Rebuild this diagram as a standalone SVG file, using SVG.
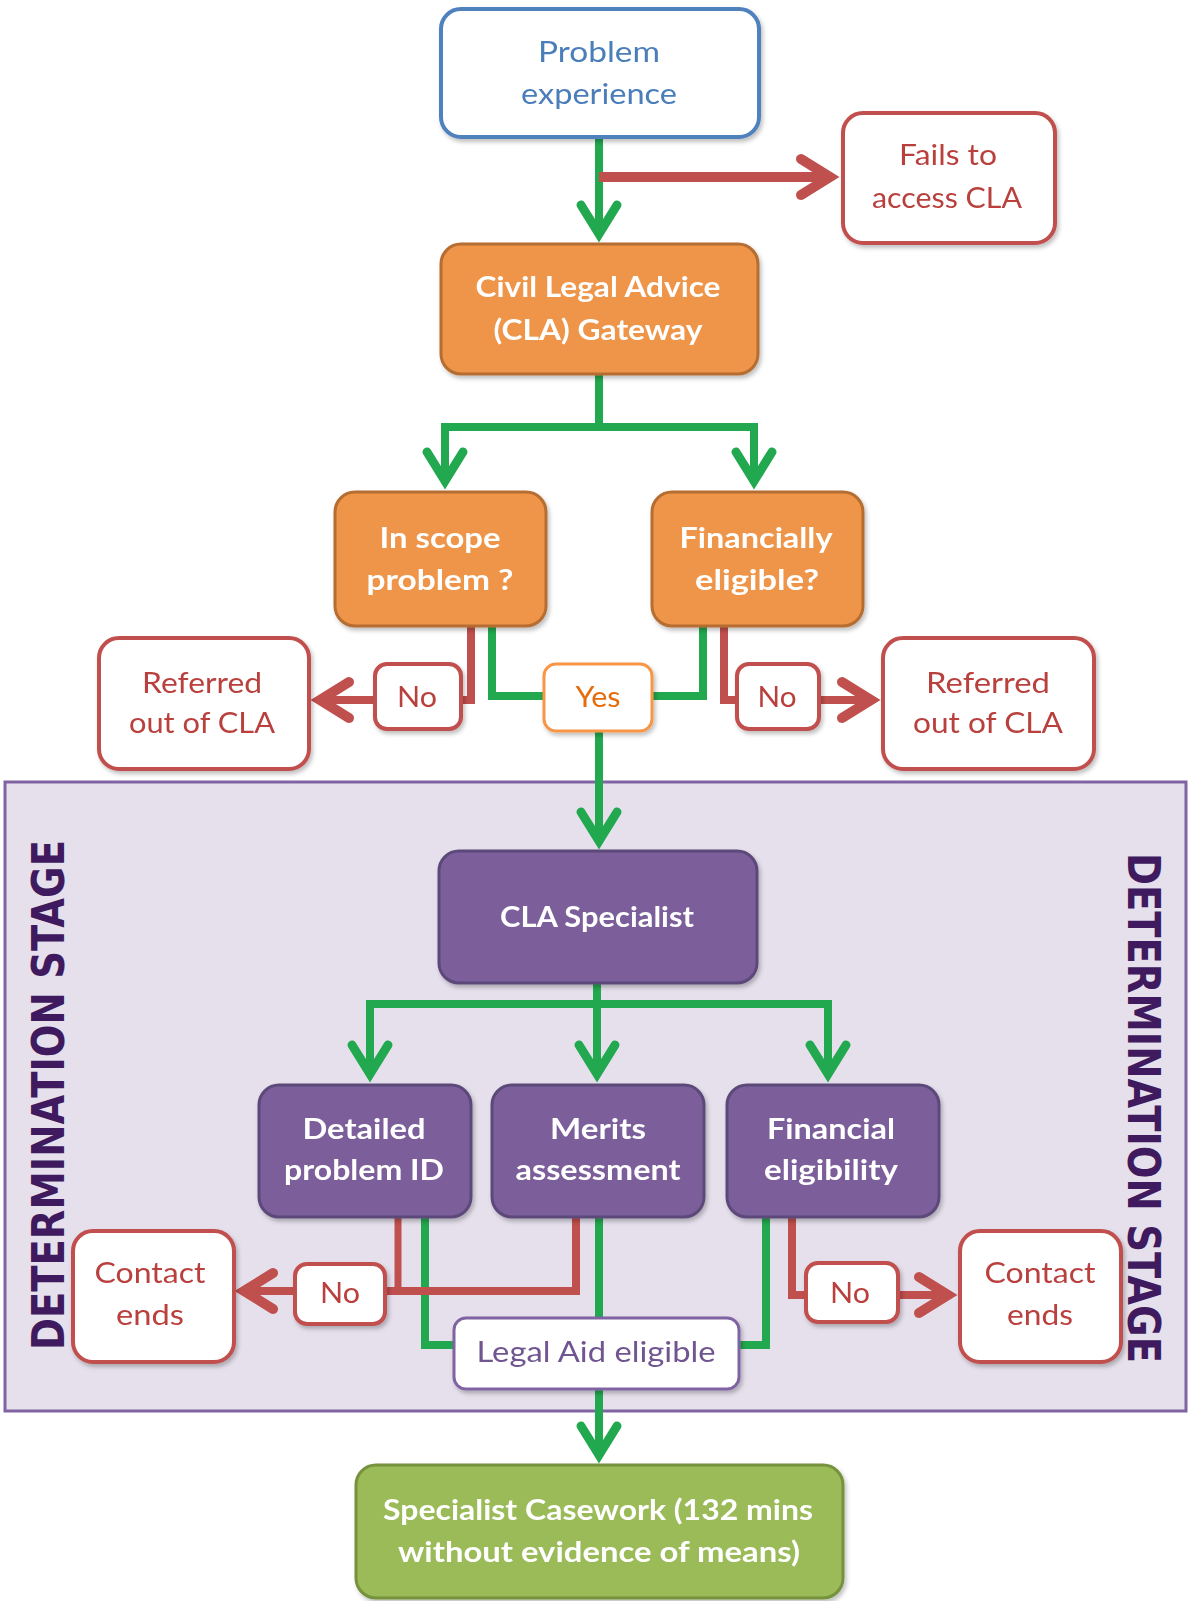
<svg xmlns="http://www.w3.org/2000/svg" width="1189" height="1601" viewBox="0 0 1189 1601">
<style>
text{font-family:Lato,"Liberation Sans",sans-serif;font-size:28px;text-anchor:middle}
.b{font-weight:bold;fill:#fff}
.blue{fill:#4A7EBB}
.red{fill:#B9403E}
.org{fill:#E46C0A}
.pur{fill:#6F5590}
.stage{font-family:"DejaVu Sans",sans-serif;font-weight:bold;font-size:44px;fill:#3F1A5E}
.wb{fill:#fff;stroke:#4F81BD;stroke-width:4}
.wr{fill:#fff;stroke:#C0504D;stroke-width:4}
.wo{fill:#fff;stroke:#F79646;stroke-width:3}
.wp{fill:#fff;stroke:#8064A2;stroke-width:3}
.or{fill:#EE9548;stroke:#B66D31;stroke-width:3}
.pr{fill:#7B5F9A;stroke:#5C4A7A;stroke-width:3}
.gr{fill:#9BBB59;stroke:#76923C;stroke-width:3}
.g{fill:none;stroke:#22A84E;stroke-width:8;stroke-linejoin:miter}
.r{fill:none;stroke:#C0504D;stroke-width:8;stroke-linejoin:miter}
.sh{filter:url(#ds)}
</style>
<defs>
<filter id="ds" x="-10%" y="-10%" width="130%" height="130%">
<feDropShadow dx="2" dy="3" stdDeviation="2" flood-color="#000" flood-opacity="0.25"/>
</filter>
<marker id="ag" markerUnits="userSpaceOnUse" orient="auto" refX="0" refY="0" markerWidth="10" markerHeight="10" overflow="visible">
<path d="M-30,-18 L-1,0 L-30,18" fill="none" stroke="#22A84E" stroke-width="9" stroke-linecap="round" stroke-linejoin="miter"/>
</marker>
<marker id="ar" markerUnits="userSpaceOnUse" orient="auto" refX="0" refY="0" markerWidth="10" markerHeight="10" overflow="visible">
<path d="M-30,-18 L-1,0 L-30,18" fill="none" stroke="#C0504D" stroke-width="10" stroke-linecap="round" stroke-linejoin="miter"/>
</marker>
</defs>
<rect width="1189" height="1601" fill="#fff"/>
<g id="frame">
<rect x="5" y="782" width="1181" height="629" fill="#E5E0EC" stroke="#8064A2" stroke-width="3"/>
<text class="stage" transform="translate(64,1095) rotate(-90)" textLength="510" lengthAdjust="spacingAndGlyphs">DETERMINATION STAGE</text>
<text class="stage" transform="translate(1128,1108) rotate(90)" textLength="510" lengthAdjust="spacingAndGlyphs">DETERMINATION STAGE</text>
</g>
<g id="connectors">
<path class="g" d="M599,138 V235" marker-end="url(#ag)"/>
<path class="r" d="M599,177 H831" style="stroke-width:10" marker-end="url(#ar)"/>
<path class="g" d="M599,375 V427"/>
<path class="g" d="M599,427 H445 V482" marker-end="url(#ag)"/>
<path class="g" d="M599,427 H754 V482" marker-end="url(#ag)"/>
<path class="g" d="M492,627 V696 H545"/>
<path class="g" d="M703,627 V696 H651"/>
<path class="r" d="M471,627 V700 H319" marker-end="url(#ar)"/>
<path class="r" d="M724,627 V700 H872" marker-end="url(#ar)"/>
<path class="g" d="M599,732 V842" marker-end="url(#ag)"/>
<path class="g" d="M597,984 V1004"/>
<path class="g" d="M597,1004 H370 V1075" marker-end="url(#ag)"/>
<path class="g" d="M597,1004 V1075" marker-end="url(#ag)"/>
<path class="g" d="M597,1004 H828 V1075" marker-end="url(#ag)"/>
<path class="g" d="M425,1217 V1345 H455"/>
<path class="g" d="M599,1217 V1318"/>
<path class="g" d="M766,1217 V1345 H738"/>
<path class="r" d="M398,1217 V1291" style="stroke-width:7"/>
<path class="r" d="M576,1217 V1291 H243" marker-end="url(#ar)"/>
<path class="r" d="M792,1217 V1295 H949" marker-end="url(#ar)"/>
<path class="g" d="M599,1389 V1456" marker-end="url(#ag)"/>
</g>
<g id="problem-experience" class="sh">
<rect class="wb" x="441" y="9" width="318" height="128" rx="20"/>
<text class="blue" x="599" y="62" textLength="122" lengthAdjust="spacingAndGlyphs">Problem</text>
<text class="blue" x="599" y="104" textLength="156" lengthAdjust="spacingAndGlyphs">experience</text>
</g>
<g id="fails-to-access" class="sh">
<rect class="wr" x="843" y="113" width="212" height="130" rx="20"/>
<text class="red" x="948" y="165" textLength="98" lengthAdjust="spacingAndGlyphs">Fails to</text>
<text class="red" x="947" y="208" textLength="150" lengthAdjust="spacingAndGlyphs">access CLA</text>
</g>
<g id="cla-gateway" class="sh">
<rect class="or" x="441" y="244" width="317" height="130" rx="20"/>
<text class="b" x="598" y="297" textLength="245" lengthAdjust="spacingAndGlyphs">Civil Legal Advice</text>
<text class="b" x="598" y="340" textLength="209" lengthAdjust="spacingAndGlyphs">(CLA) Gateway</text>
</g>
<g id="in-scope" class="sh">
<rect class="or" x="335" y="492" width="211" height="134" rx="20"/>
<text class="b" x="440" y="548" textLength="121" lengthAdjust="spacingAndGlyphs">In scope</text>
<text class="b" x="440" y="590" textLength="147" lengthAdjust="spacingAndGlyphs">problem ?</text>
</g>
<g id="financially-eligible" class="sh">
<rect class="or" x="652" y="492" width="211" height="134" rx="20"/>
<text class="b" x="756" y="548" textLength="153" lengthAdjust="spacingAndGlyphs">Financially</text>
<text class="b" x="757" y="590" textLength="124" lengthAdjust="spacingAndGlyphs">eligible?</text>
</g>
<g id="referred-left" class="sh">
<rect class="wr" x="99" y="638" width="210" height="131" rx="20"/>
<text class="red" x="202" y="693" textLength="120" lengthAdjust="spacingAndGlyphs">Referred</text>
<text class="red" x="202" y="733" textLength="146" lengthAdjust="spacingAndGlyphs">out of CLA</text>
</g>
<g id="referred-right" class="sh">
<rect class="wr" x="883" y="638" width="211" height="131" rx="20"/>
<text class="red" x="988" y="693" textLength="124" lengthAdjust="spacingAndGlyphs">Referred</text>
<text class="red" x="988" y="733" textLength="150" lengthAdjust="spacingAndGlyphs">out of CLA</text>
</g>
<g id="no-scope" class="sh">
<rect class="wr" x="375" y="664" width="86" height="65" rx="12"/>
<text class="red" x="417" y="707" textLength="40" lengthAdjust="spacingAndGlyphs">No</text>
</g>
<g id="yes" class="sh">
<rect class="wo" x="544" y="664" width="108" height="67" rx="12"/>
<text class="org" x="598" y="707" textLength="45" lengthAdjust="spacingAndGlyphs">Yes</text>
</g>
<g id="no-financial" class="sh">
<rect class="wr" x="737" y="664" width="82" height="65" rx="12"/>
<text class="red" x="777" y="707" textLength="39" lengthAdjust="spacingAndGlyphs">No</text>
</g>
<g id="cla-specialist" class="sh">
<rect class="pr" x="439" y="851" width="318" height="132" rx="20"/>
<text class="b" x="597" y="927" textLength="194" lengthAdjust="spacingAndGlyphs">CLA Specialist</text>
</g>
<g id="detailed-problem" class="sh">
<rect class="pr" x="259" y="1085" width="212" height="132" rx="20"/>
<text class="b" x="364" y="1139" textLength="123" lengthAdjust="spacingAndGlyphs">Detailed</text>
<text class="b" x="364" y="1180" textLength="160" lengthAdjust="spacingAndGlyphs">problem ID</text>
</g>
<g id="merits-assessment" class="sh">
<rect class="pr" x="492" y="1085" width="212" height="132" rx="20"/>
<text class="b" x="598" y="1139" textLength="96" lengthAdjust="spacingAndGlyphs">Merits</text>
<text class="b" x="598" y="1180" textLength="165" lengthAdjust="spacingAndGlyphs">assessment</text>
</g>
<g id="financial-eligibility" class="sh">
<rect class="pr" x="727" y="1085" width="212" height="132" rx="20"/>
<text class="b" x="831" y="1139" textLength="128" lengthAdjust="spacingAndGlyphs">Financial</text>
<text class="b" x="831" y="1180" textLength="134" lengthAdjust="spacingAndGlyphs">eligibility</text>
</g>
<g id="contact-left" class="sh">
<rect class="wr" x="73" y="1231" width="161" height="131" rx="20"/>
<text class="red" x="150" y="1283" textLength="111" lengthAdjust="spacingAndGlyphs">Contact</text>
<text class="red" x="150" y="1325" textLength="68" lengthAdjust="spacingAndGlyphs">ends</text>
</g>
<g id="contact-right" class="sh">
<rect class="wr" x="960" y="1231" width="161" height="131" rx="20"/>
<text class="red" x="1040" y="1283" textLength="111" lengthAdjust="spacingAndGlyphs">Contact</text>
<text class="red" x="1040" y="1325" textLength="66" lengthAdjust="spacingAndGlyphs">ends</text>
</g>
<g id="no-lower-left" class="sh">
<rect class="wr" x="295" y="1264" width="90" height="60" rx="12"/>
<text class="red" x="340" y="1303" textLength="40" lengthAdjust="spacingAndGlyphs">No</text>
</g>
<g id="no-lower-right" class="sh">
<rect class="wr" x="806" y="1263" width="92" height="59" rx="12"/>
<text class="red" x="850" y="1303" textLength="40" lengthAdjust="spacingAndGlyphs">No</text>
</g>
<g id="legal-aid-eligible" class="sh">
<rect class="wp" x="454" y="1318" width="285" height="71" rx="12"/>
<text class="pur" x="596" y="1362" textLength="239" lengthAdjust="spacingAndGlyphs">Legal Aid eligible</text>
</g>
<g id="specialist-casework" class="sh">
<rect class="gr" x="356" y="1465" width="487" height="133" rx="20"/>
<text class="b" x="598" y="1520" textLength="430" lengthAdjust="spacingAndGlyphs">Specialist Casework (132 mins</text>
<text class="b" x="599" y="1562" textLength="402" lengthAdjust="spacingAndGlyphs">without evidence of means)</text>
</g>
</svg>
